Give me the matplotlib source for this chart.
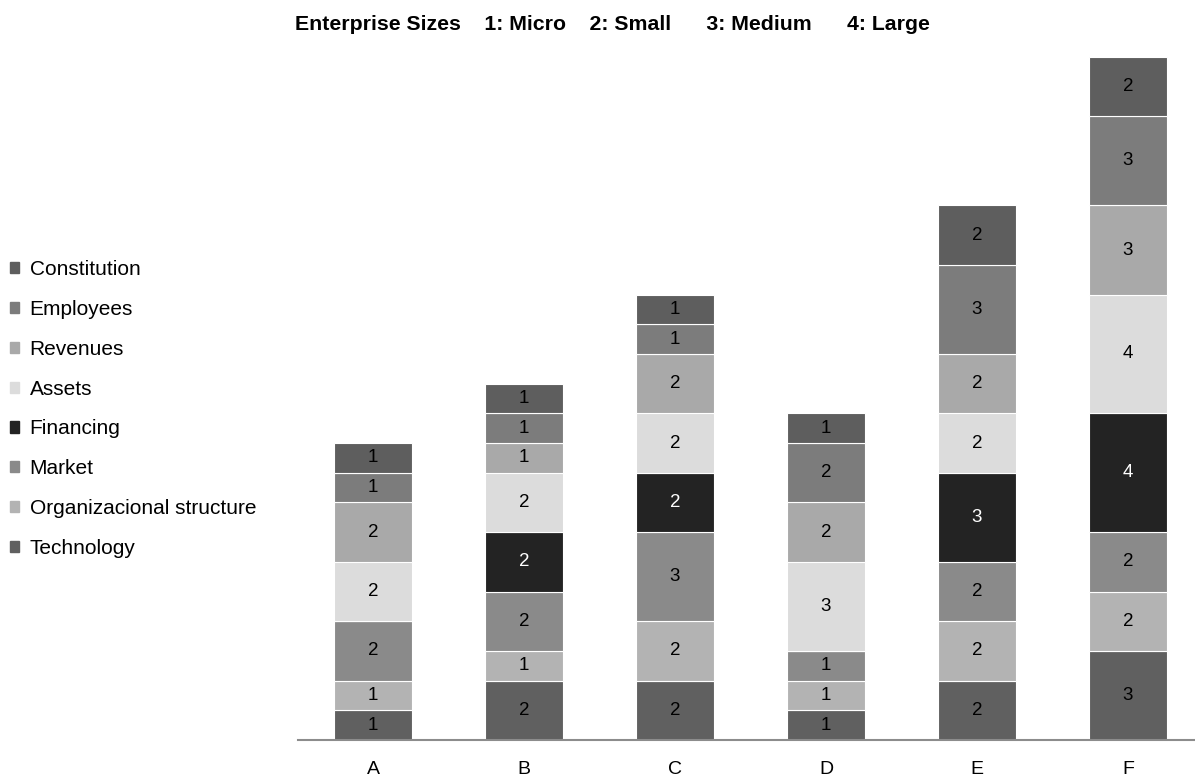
# Stacked bars of enterprise size per criterion
import matplotlib.pyplot as plt
import matplotlib.patches as mpatches
import numpy as np

plt.rcParams['font.family'] = ['Liberation Sans', 'DejaVu Sans']

# Data
categories = ["A", "B", "C", "D", "E", "F"]
series = ["Technology", "Organizacional structure", "Market", "Financing",
          "Assets", "Revenues", "Employees", "Constitution"]
technology = [1, 2, 2, 1, 2, 3]
org_structure = [1, 1, 2, 1, 2, 2]
market = [2, 2, 3, 1, 2, 2]
financing = [0, 2, 2, 0, 3, 4]
assets = [2, 2, 2, 3, 2, 4]
revenues = [2, 1, 2, 2, 2, 3]
employees = [1, 1, 1, 2, 3, 3]
constitution = [1, 1, 1, 1, 2, 2]
values = [technology, org_structure, market, financing,
          assets, revenues, employees, constitution]

colors = ["#606060", "#b3b3b3", "#8a8a8a", "#232323",
          "#dcdcdc", "#a9a9a9", "#7c7c7c", "#5e5e5e"]
text_colors = ["black", "black", "black", "white",
               "black", "black", "black", "black"]

fig = plt.figure(figsize=(11.95, 7.76), dpi=100)
ax = fig.add_axes([297.5 / 1195, 36 / 776, 906 / 1195, 683 / 776])

x = np.arange(len(categories))
bottom = np.zeros(len(categories))
for name, vals, col, tcol in zip(series, values, colors, text_colors):
    vals = np.array(vals, dtype=float)
    ax.bar(x, vals, 0.51, bottom=bottom, color=col, edgecolor="white",
           linewidth=0.8, label=name)
    for xi, b, v in zip(x, bottom, vals):
        if v > 0:
            ax.text(xi, b + v / 2, str(int(v)), ha="center", va="center",
                    fontsize=13.5, color=tcol)
    bottom += vals

ax.set_xlim(-0.5, 5.5)
ax.set_ylim(0, 23)
ax.set_xticks(x)
ax.set_xticklabels(categories, fontsize=14)
ax.tick_params(axis="x", length=0, pad=15)
ax.set_yticks([])
for s in ["top", "right", "left"]:
    ax.spines[s].set_visible(False)
ax.spines["bottom"].set_color("#8c8c8c")
ax.spines["bottom"].set_linewidth(1.5)

# Legend on the left, top entry is Constitution
handles = [mpatches.Patch(color=c, label=n) for n, c in zip(series, colors)][::-1]
fig.legend(handles=handles, loc="center left", bbox_to_anchor=(0.0, 0.473),
           frameon=False, fontsize=15, handlelength=0.45, handleheight=0.45,
           handletextpad=0.5, labelspacing=1.0, borderaxespad=0.07)

fig.text(612 / 1195, 1 - 25 / 776,
         "Enterprise Sizes    1: Micro    2: Small      3: Medium      4: Large",
         ha="center", va="center", fontsize=15.3, fontweight="bold")

plt.savefig("out.png", dpi=100)
